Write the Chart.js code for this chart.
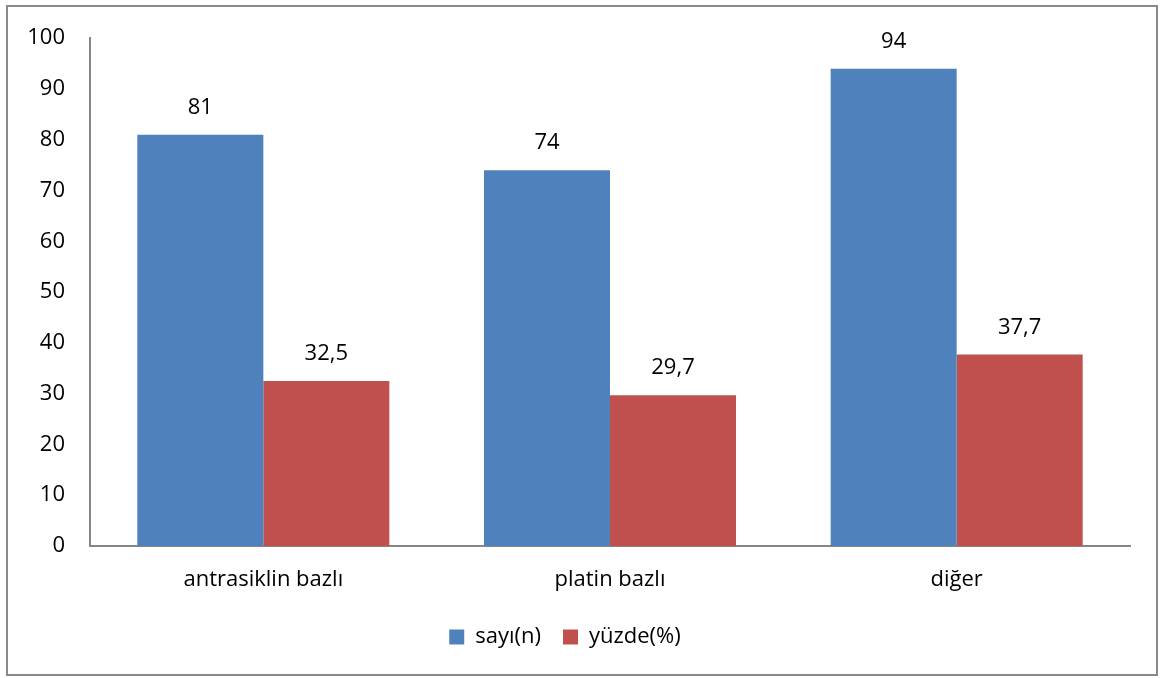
<!DOCTYPE html>
<html>
<head>
<meta charset="utf-8">
<script src="https://cdn.jsdelivr.net/npm/chart.js@4/dist/chart.umd.min.js"></script>
<style>
  html, body { margin: 0; padding: 0; background: #fff; }
  #wrap { position: relative; width: 1160px; height: 678px; }
</style>
</head>
<body>
<div id="wrap"><canvas id="chart" width="1160" height="678"></canvas></div>
<script>
const categories = ['antrasiklin bazlı', 'platin bazlı', 'diğer'];
const sayiValues = [81, 74, 94];
const yuzdeValues = [32.5, 29.7, 37.7];
const seriesNames = ['sayı(n)', 'yüzde(%)'];

const FONT = "'Open Sans', 'Liberation Sans', sans-serif";
const FSIZE = 22;
Chart.defaults.font.family = FONT;
Chart.defaults.font.size = FSIZE;
Chart.defaults.color = '#000';

// frame around the whole chart
const framePlugin = {
  id: 'frame',
  beforeDraw(chart) {
    const ctx = chart.ctx;
    ctx.save();
    ctx.strokeStyle = '#898989';
    ctx.lineWidth = 2;
    ctx.strokeRect(7, 6, 1150, 669);
    ctx.restore();
  }
};

// value labels above the bars
const valueLabels = {
  id: 'valueLabels',
  afterDatasetsDraw(chart) {
    const ctx = chart.ctx;
    ctx.save();
    ctx.font = FSIZE + 'px ' + FONT;
    ctx.fillStyle = '#000';
    ctx.textAlign = 'center';
    ctx.textBaseline = 'middle';
    chart.data.datasets.forEach((ds, i) => {
      chart.getDatasetMeta(i).data.forEach((bar, j) => {
        const txt = String(ds.data[j]).replace('.', ',');
        ctx.fillText(txt, bar.x, bar.y - 27);
      });
    });
    ctx.restore();
  }
};

new Chart(document.getElementById('chart'), {
  type: 'bar',
  data: {
    labels: categories,
    datasets: [
      { label: seriesNames[0], data: sayiValues, backgroundColor: '#4F81BD' },
      { label: seriesNames[1], data: yuzdeValues, backgroundColor: '#C0504D' }
    ]
  },
  options: {
    responsive: false,
    animation: false,
    layout: { padding: { left: 0, right: 30, top: 35, bottom: 20 } },
    datasets: { bar: { categoryPercentage: 0.727, barPercentage: 1.0 } },
    scales: {
      x: {
        grid: { display: false, drawTicks: false },
        border: { color: '#868686', width: 2 },
        ticks: { padding: 21, font: { size: FSIZE } },
        afterFit(scale) { scale.height = 58; }
      },
      y: {
        min: 0, max: 100,
        grid: { display: false, drawTicks: false },
        border: { color: '#868686', width: 2 },
        ticks: { stepSize: 10, padding: 25, font: { size: FSIZE } },
        afterFit(scale) { scale.width = 90; }
      }
    },
    plugins: {
      tooltip: { enabled: false },
      legend: {
        position: 'bottom',
        labels: { boxWidth: 15, boxHeight: 15, padding: 22, font: { size: FSIZE } }
      }
    }
  },
  plugins: [framePlugin, valueLabels]
});
</script>
</body>
</html>
